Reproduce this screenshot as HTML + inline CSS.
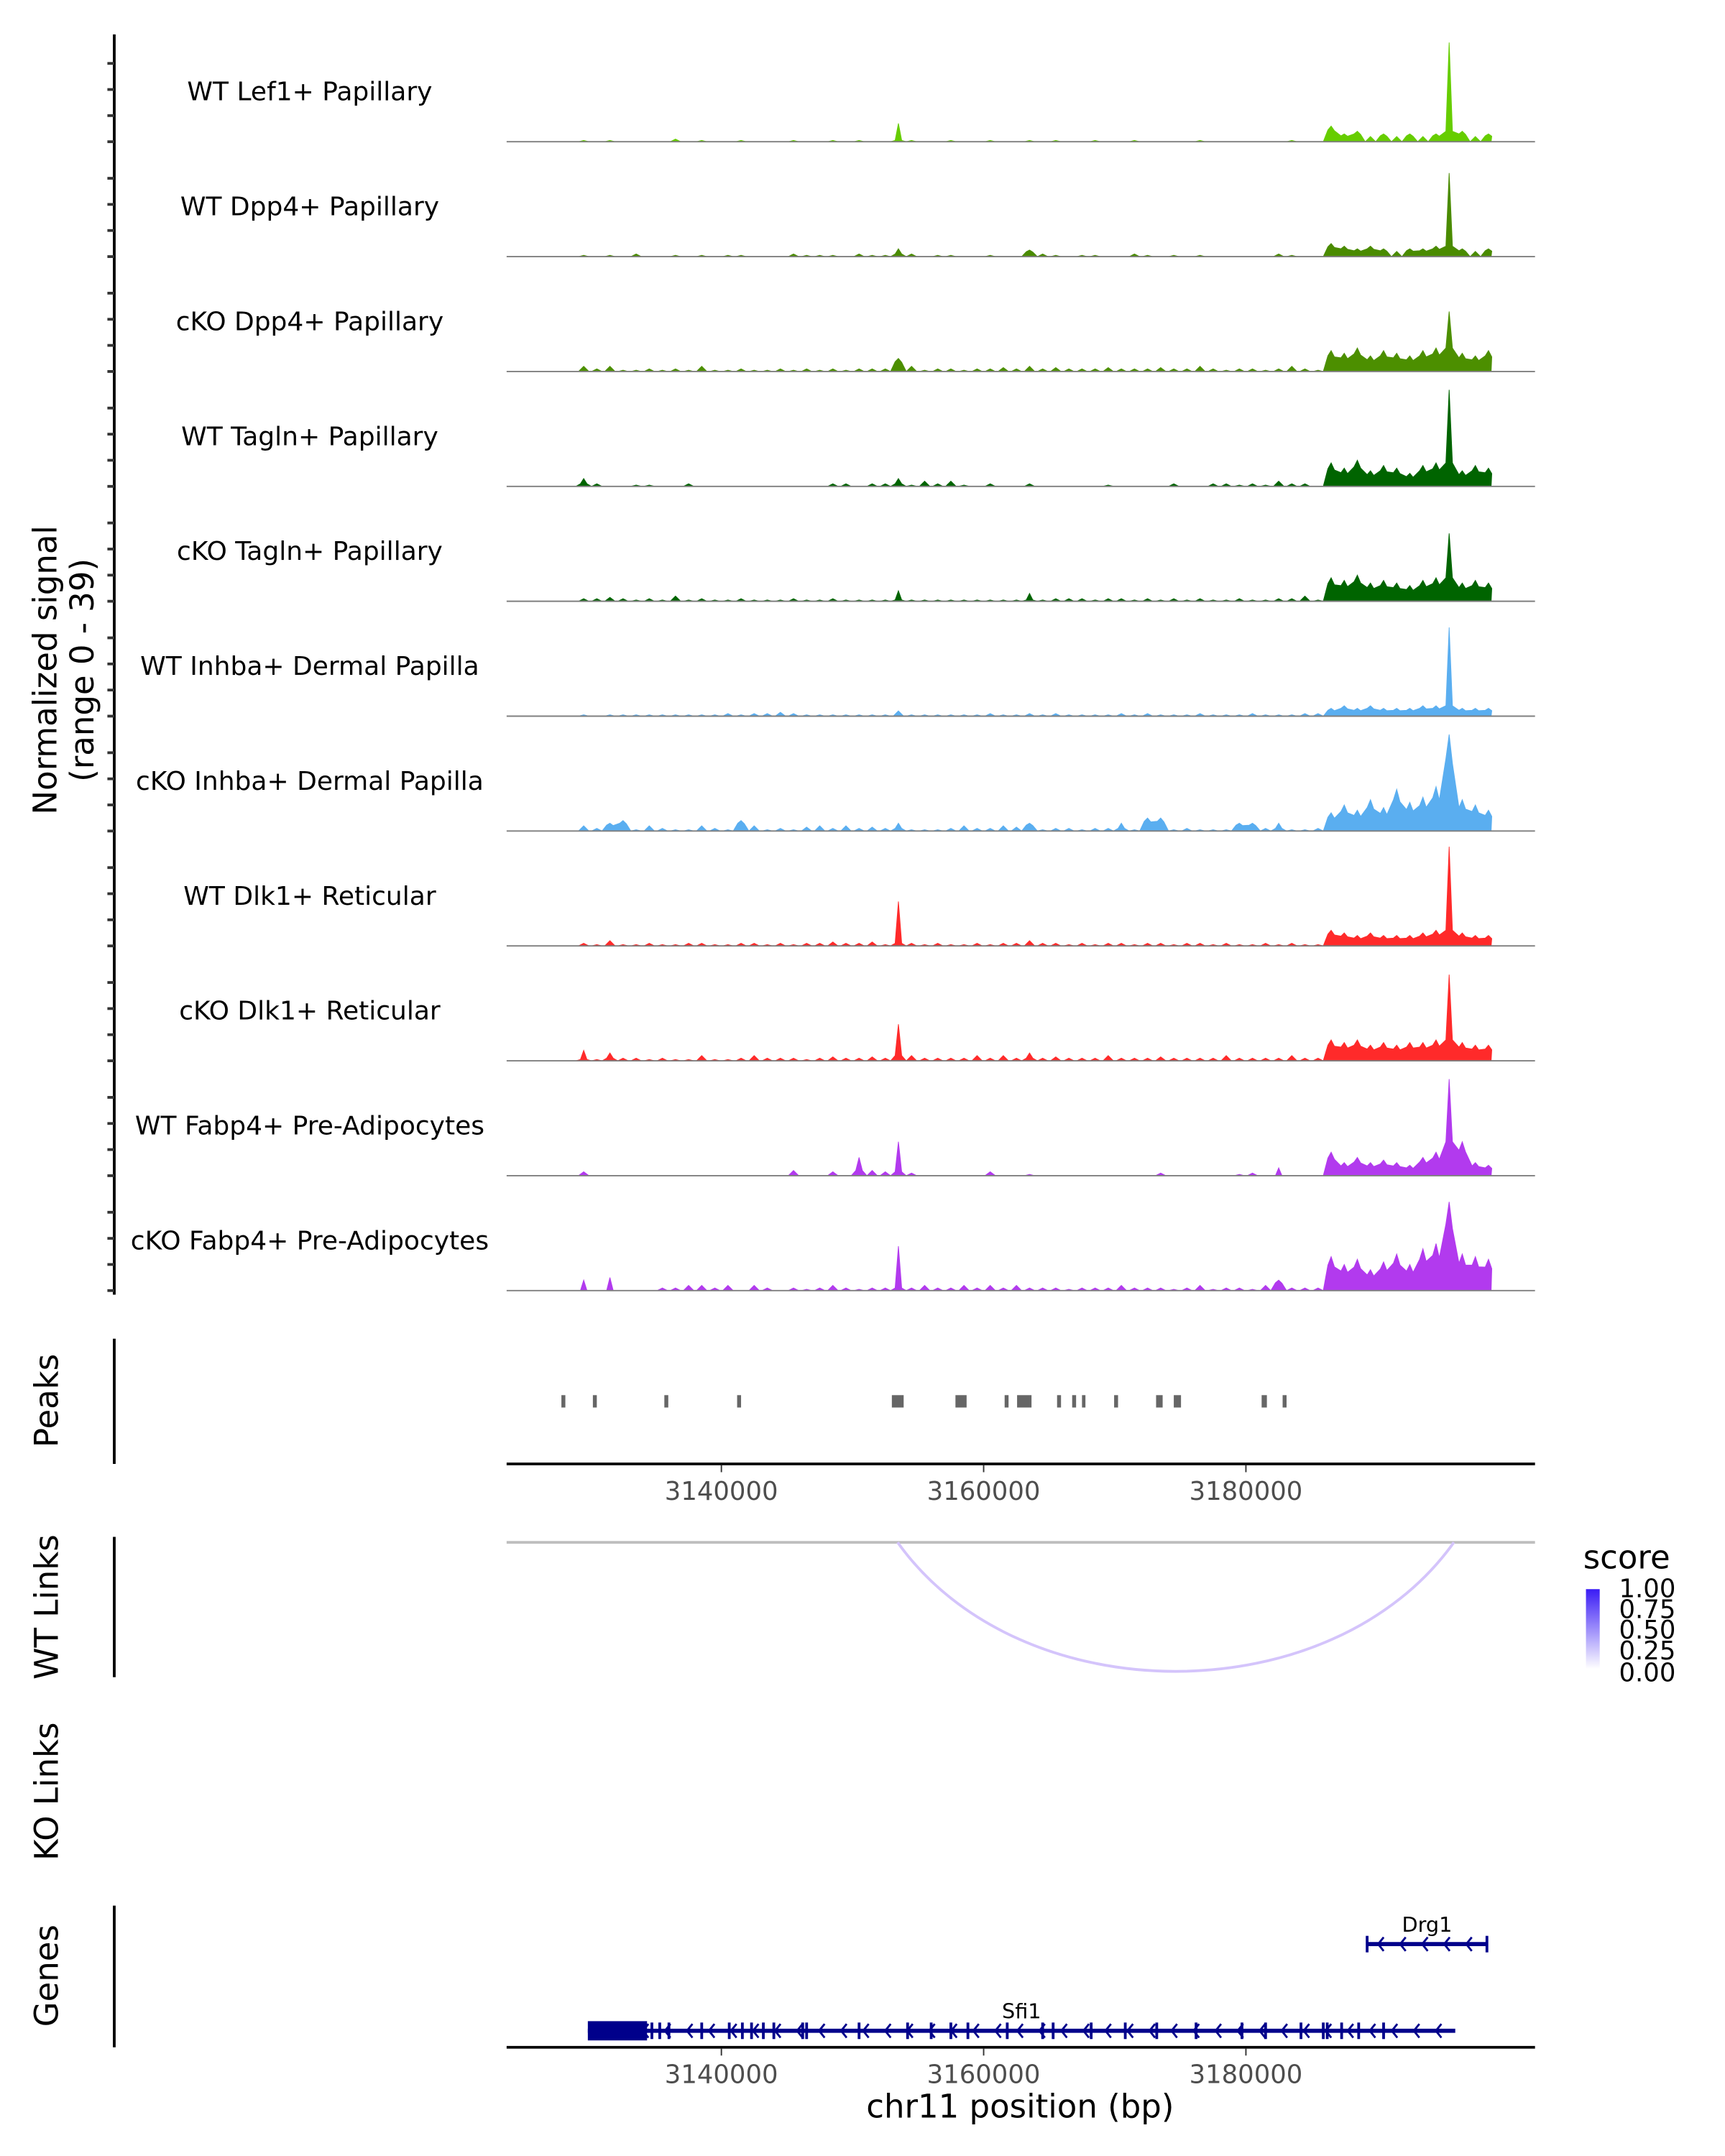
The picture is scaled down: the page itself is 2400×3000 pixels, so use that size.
<!DOCTYPE html>
<html><head><meta charset="utf-8"><style>
html,body{margin:0;padding:0;background:#fff}
svg{display:block;font-family:"DejaVu Sans","Liberation Sans",sans-serif}
</style></head><body>
<svg id="chart" xmlns="http://www.w3.org/2000/svg" width="2400" height="3000" viewBox="0 0 1253 1567" preserveAspectRatio="none">
<g id="tracks"></g>
<line x1="83" y1="25" x2="83" y2="941" stroke="#000" stroke-width="2"/>
<g id="yticks"></g>
<text transform="translate(41,487) rotate(-90)" text-anchor="middle" font-size="23.5"><tspan x="0" dy="0">Normalized signal</tspan><tspan x="0" dy="27">(range 0 - 39)</tspan></text>

<line x1="83" y1="973" x2="83" y2="1064" stroke="#000" stroke-width="2"/>
<text transform="translate(42,1018) rotate(-90)" text-anchor="middle" font-size="23.5">Peaks</text>
<g id="peaks"></g>
<line x1="368" y1="1064" x2="1115" y2="1064" stroke="#000" stroke-width="2"/>
<g id="xticks1"></g>

<line x1="83" y1="1117" x2="83" y2="1219" stroke="#000" stroke-width="2"/>
<text transform="translate(42,1168) rotate(-90)" text-anchor="middle" font-size="23.5">WT Links</text>
<line x1="368" y1="1121" x2="1115" y2="1121" stroke="#bebebe" stroke-width="2"/>
<path id="arc" fill="none" stroke="#d4c4fb" stroke-width="2"/>

<text x="1150" y="1140" font-size="23.5">score</text>
<defs><linearGradient id="grad" x1="0" y1="1" x2="0" y2="0"><stop offset="0" stop-color="#ffffff"/><stop offset="1" stop-color="#3a1cf5"/></linearGradient></defs>
<rect x="1152" y="1155" width="10" height="58" fill="url(#grad)"/>
<g font-size="18.5">
<text x="1176" y="1161">1.00</text><text x="1176" y="1176">0.75</text><text x="1176" y="1191">0.50</text><text x="1176" y="1206">0.25</text><text x="1176" y="1222">0.00</text></g>

<text transform="translate(42,1302) rotate(-90)" text-anchor="middle" font-size="23.5">KO Links</text>

<line x1="83" y1="1385" x2="83" y2="1488" stroke="#000" stroke-width="2"/>
<text transform="translate(42,1436) rotate(-90)" text-anchor="middle" font-size="23.5">Genes</text>
<g id="genes"></g>
<line x1="368" y1="1488" x2="1115" y2="1488" stroke="#000" stroke-width="2"/>
<g id="xticks2"></g>
<text x="741" y="1539" text-anchor="middle" font-size="23.5">chr11 position (bp)</text>
</svg>
<script>
const trackNames=["WT Lef1+ Papillary","WT Dpp4+ Papillary","cKO Dpp4+ Papillary","WT Tagln+ Papillary","cKO Tagln+ Papillary","WT Inhba+ Dermal Papilla","cKO Inhba+ Dermal Papilla","WT Dlk1+ Reticular","cKO Dlk1+ Reticular","WT Fabp4+ Pre-Adipocytes","cKO Fabp4+ Pre-Adipocytes"];
const trackColors=["#66cd00","#4a8b00","#4c8f00","#006400","#006400","#5aaef0","#5aaef0","#ff2a2a","#ff2a2a","#b23aee","#b23aee"];
const binStart=3127000, binSize=1000;
const sLef1=[0,0,0.5,0,0.5,0,0,0,0,1, 0,0.5,0,0,0.5,0,0,0,0.5,0, 0,0.5,0,0.5,0,0,7,0.5,0,0, 0.5,0,0,0.5,0,0,0.5,0,0.5,0, 0,0.5,0,0,0.5,0,0,0,0,0.5, 0,0,0,0,0,0,0.5,0,0,6, 3,4,2,3,2,3,2,3,38,4,2,3];
const sDpp4WT=[0,0,0.5,0,0.5,0,1,0,0,0.5, 0,0.5,0,0.5,0.5,0,0,0,1,0.5, 0.5,0.5,0,1,0.5,0.5,3,1,0,0.5, 0.5,0,0,0.5,0,0,2.5,1,0.5,0, 0.5,0.5,0,0,1,0.5,0,0.5,0,0.5, 0,0,0,0,0,1,0.5,0,0,5, 4,3,4,3,2,3,3,4,32,3,2,3];
const sDpp4KO=[0,0,2,1,2,0.5,0.5,1,0.5,1, 0.5,2,0.5,0.5,1,0.5,0.5,1,0.5,1, 0.5,1,0.5,1,1,1,5,2,0.5,1, 1,0.5,1,1,1.5,1,2,1,1.5,1, 1,1,1.5,1,1,1,1.5,1,1,2, 1,0.5,1,1,0.5,1,2,1,0.5,8, 7,9,6,8,7,6,8,9,23,7,6,8];
const sTaglnWT=[0,0,3,1,0,0,0.5,0.5,0,0, 1,0,0,0,0,0,0,0,0,0, 0,1,1,0,1,1,3,0.5,2,1, 2,0.5,0,1,0,0,1,0,0,0, 0,0,0.5,0,0,0,0,1,0,0, 1,1,0.5,1,0.5,2,1,1,0,9, 7,10,6,8,7,5,8,9,37,6,8,7];
const sTaglnKO=[0,0,1,1,1.5,1,0.5,1,0.5,2, 0.5,1,0.5,0.5,1,0.5,0.5,0.5,1,0.5, 0.5,1,0.5,0.5,0.5,0.5,4,0.5,0.5,0.5, 0.5,0.5,0.5,0.5,0.5,0.5,3,0.5,1,1, 1,0.5,1,1,0.5,1,0.5,1,0.5,1, 0.5,0.5,1,0.5,0.5,1,1,2,0.5,9, 8,10,7,8,7,6,8,9,26,7,8,7];
const sInhbaWT=[0,0,0.5,0,0.5,0.5,0.5,0.5,0.5,0.5, 0.5,0.5,0.5,1,0.5,1,1,1.5,1,0.5, 0.5,0.5,0.5,0.5,0.5,0.5,2,0.5,0.5,0.5, 0.5,0.5,0.5,1,0.5,0.5,1,0.5,1,0.5, 0.5,0.5,0.5,1,0.5,1,0.5,0.5,0.5,1, 0.5,0.5,0.5,1,0.5,0.5,0.5,1,1,3, 4,3,4,3,3,3,4,4,34,3,3,3];
const sInhbaKO=[0,0,2,1,3,4,0.5,2,1,0.5, 0.5,2,1,0.5,4,2,0.5,1,0.5,1.5, 2,1,2,1,1.5,1,3,0.5,0.5,0.5, 1,2,1,1,2,1.5,3,0.5,1,1, 0.5,1,1,3,0.5,5,5,0.5,1,0.5, 0.5,0.5,3,3,1,3,0.5,0.5,1,7, 10,8,12,9,16,11,13,17,37,12,10,8];
const sDlk1WT=[0,0,1,0.5,2,0.5,0.5,1,0.5,0.5, 1,1,0.5,0.5,1,1,0.5,1,0.5,1, 1,1.5,1,1,1.5,0.5,17,1,0.5,1, 0.5,0.5,1,0.5,1,1,2,1,1,0.5, 1,0.5,1,1,0.5,1,1,0.5,1,1, 0.5,1,0.5,0.5,1,0.5,1,0.5,0.5,6, 5,4,5,4,4,4,5,6,38,5,4,4];
const sDlk1KO=[0,0,4,0.5,3,1,1,0.5,1,0.5, 0.5,2,0.5,0.5,1,2,1,1,1,0.5, 1,1.5,1,1,1.5,1,14,2,1,1, 1,1,2,1,2,1,3,1,1.5,1, 1,1,2,1,1,1,1.5,1,1,1, 1,2,1,1,1,1,2,1,1,8, 7,8,6,7,6,7,7,8,33,7,6,6];
const sFabp4WT=[0,0,1.5,0,0,0,0,0,0,0, 0,0,0,0,0,0,0,0,2,0, 0,1.5,0,7,2,1.5,13,1,0,0, 0,0,0,1.5,0,0,0.5,0,0,0, 0,0,0,0,0,0,1,0,0,0, 0,0,0.5,1,0,3,0,0,0,9, 5,7,5,6,5,4,7,9,37,13,5,4];
const sFabp4KO=[0,0,4,0,5,0,0,0,1,1, 2,2,1,2,0,2,1,0,1,0.5, 1,2,1,0.5,1,1,17,1,2,1, 1,2,1,2,1,2,1,1,1,0.5, 1,1,1,2,1,1,1,0.5,1,2, 0.5,1,1,0.5,2,4,1,1,1,13, 10,12,8,11,14,10,16,18,34,14,13,12];
const seriesList=[sLef1,sDpp4WT,sDpp4KO,sTaglnWT,sTaglnKO,sInhbaWT,sInhbaKO,sDlk1WT,sDlk1KO,sFabp4WT,sFabp4KO];
const yMax=39;
const peakStarts=[3127800,3130200,3135650,3141200,3153000,3157850,3161600,3162550,3165600,3166750,3167500,3169950,3173150,3174500,3181200,3182800];
const peakEnds=[3128100,3130500,3135950,3141500,3153900,3158700,3161900,3163650,3165900,3167050,3167700,3170250,3173650,3175050,3181600,3183100];
const xTicks=[3140000,3160000,3180000];
const linkStart=3153440, linkEnd=3195860, linkScore=0.3;
const sfi1Start=3129815, sfi1End=3195965, sfi1ThickEnd=3134330;
const sfi1Exons=[3134700,3135300,3136000,3138500,3140600,3141600,3142300,3143200,3144000,3146200,3146500,3150500,3154200,3156000,3157500,3158800,3161800,3164500,3165300,3168200,3170800,3173200,3176200,3179700,3181500,3184200,3185900,3186200,3187300,3188600,3190500];
const drg1Start=3189245, drg1End=3198380;

const NS="http://www.w3.org/2000/svg";
function X(bp){return 524+(bp-3140000)*0.009525;}
function mk(tag,attrs,parent){const e=document.createElementNS(NS,tag);for(const k in attrs)e.setAttribute(k,attrs[k]);parent.appendChild(e);return e;}
const tracksG=document.getElementById('tracks'), ytG=document.getElementById('yticks');
const trackTop=20, trackH=83.5, plotH=74;
seriesList.forEach((s,ti)=>{
  const base=trackTop+trackH*(ti+1)-0.5;
  const Y=v=>base-v/yMax*plotH;
  const g=mk('g',{},tracksG);
  
  
  let d='M'+X(binStart)+','+base;
  s.forEach((v,i)=>{
    const c=binStart+binSize*(i+0.5);
    const prev=i>0?s[i-1]:0, next=i<s.length-1?s[i+1]:0;
    if(v<2.5){
      d+=' L'+X(c-binSize*0.4)+','+base+' L'+X(c)+','+Y(v)+' L'+X(c+binSize*0.4)+','+base;
    } else if(v>prev*2.5 && v>next*2.5){
      const m=Math.max(prev,next);
      d+=' L'+X(c-binSize*0.25)+','+Y(m)+' L'+X(c)+','+Y(v)+' L'+X(c+binSize*0.25)+','+Y(m);
    } else {
      d+=' L'+X(c-binSize*0.25)+','+Y(v*0.75)+' L'+X(c)+','+Y(v)+' L'+X(c+binSize*0.25)+','+Y(v*0.7);
    }
  });
  d+=' L'+X(binStart+binSize*s.length-300)+','+base+' Z';
  const p=mk('path',{d:d,fill:trackColors[ti],stroke:trackColors[ti],'stroke-width':0.5},g);
  
  
  const bl=mk('line',{x1:368,x2:1115,y1:base,y2:base,stroke:'#7f7f7f','stroke-width':1},g);
  
  
  const t=mk('text',{x:225,y:base-30,'text-anchor':'middle','font-size':18.8},g);
  t.textContent=trackNames[ti];
  
  
  [0,10,20,30].forEach(v=>{
    const tk=mk('line',{x1:78,x2:83,y1:Y(v),y2:Y(v),stroke:'#333','stroke-width':2},ytG);
    
    
  });
});
const pk=document.getElementById('peaks');
peakStarts.forEach((s,i)=>{
  const x1=X(s),x2=X(peakEnds[i]);
  const r=mk('rect',{x:x1,y:1014,width:Math.max(2.5,x2-x1),height:9,fill:'#666'},pk);
  
  
});
function ticks(id,y){
  const g=document.getElementById(id);
  xTicks.forEach(t=>{
    const l=mk('line',{x1:X(t),x2:X(t),y1:y,y2:y+5,stroke:'#333','stroke-width':1},g);
    
    
    const tx=mk('text',{x:X(t),y:y+25,'text-anchor':'middle','font-size':18.5,fill:'#4d4d4d'},g);
    tx.textContent=t;
    
    
  });
}
ticks('xticks1',1065);ticks('xticks2',1489);
const a1=X(linkStart),a2=X(linkEnd),depth=94;
document.getElementById('arc').setAttribute('d','M'+a1+',1121 C'+(a1+(a2-a1)*0.22)+','+(1121+depth*1.33)+' '+(a2-(a2-a1)*0.22)+','+(1121+depth*1.33)+' '+a2+',1121');
const gg=document.getElementById('genes');
function gene(s,e,y,name,exons,thickEnd){
  const g=mk('g',{},gg);
  
  
  mk('line',{x1:X(s),x2:X(e),y1:y,y2:y,stroke:'#00008b','stroke-width':3},g);
  if(thickEnd){mk('rect',{x:X(s),y:y-7,width:X(thickEnd)-X(s),height:14,fill:'#00008b'},g);}
  exons.forEach(ex=>{mk('line',{x1:X(ex),x2:X(ex),y1:y-6,y2:y+6,stroke:'#00008b','stroke-width':2},g);});
  for(let x=X(s)+8;x<X(e)-3;x+=16){
    mk('path',{d:'M'+(x+4)+','+(y-5)+' L'+x+','+y+' L'+(x+4)+','+(y+5),fill:'none',stroke:'#00008b','stroke-width':1.5},g);
  }
  const t=mk('text',{x:(X(s)+X(e))/2,y:y-9,'text-anchor':'middle','font-size':15},g);
  t.textContent=name;
  
  
}
gene(drg1Start,drg1End,1413,'Drg1',[drg1Start,drg1End],null);
gene(sfi1Start,sfi1End,1476,'Sfi1',sfi1Exons,sfi1ThickEnd);
</script>
</body></html>
